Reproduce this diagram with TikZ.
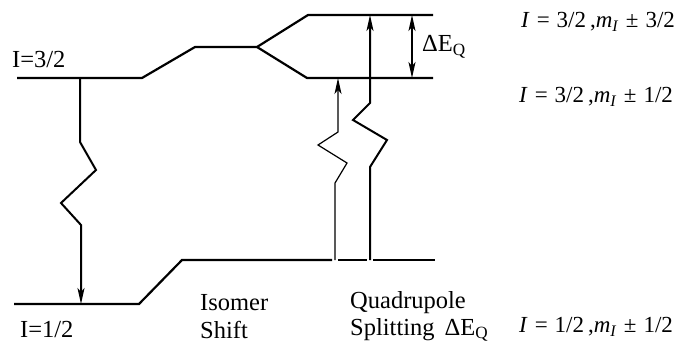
\documentclass[tikz,border=0pt]{standalone}
\usepackage{fontspec}
\setmainfont{Liberation Serif}
\usetikzlibrary{arrows.meta}
\begin{document}
\begin{tikzpicture}[x=1pt,y=-1pt,
  level/.style={line width=2.2pt},
  ray/.style={line width=2pt},
  thinray/.style={line width=1.2pt},
  head/.tip={Stealth[length=16pt,width=7pt,inset=4pt]},
  tip/.style={-head},
  lbl/.style={font=\fontsize{24.5}{28}\selectfont, inner sep=0pt},
  mlbl/.style={font=\fontsize{23}{26}\selectfont, inner sep=0pt, anchor=west}]
\useasboundingbox (0,0) rectangle (682,345);
% coordinates
\coordinate (u1) at (17,78);
\coordinate (u2) at (142,78);
\coordinate (u3) at (195,47);
\coordinate (u4) at (257,47);
\coordinate (t1) at (308,15);
\coordinate (t2) at (433,15);
\coordinate (b1) at (307,78);
\coordinate (b2) at (433,78);
\coordinate (l1) at (14,304);
\coordinate (l2) at (139,304);
\coordinate (l3) at (182,260);
\coordinate (l4) at (435,260);
% levels
\draw[level] (u1) -- (u2) -- (u3) -- (u4) -- (t1) -- (t2);
\draw[level] (u4) -- (b1) -- (b2);
\draw[level] (l1) -- (l2) -- (l3) -- (332,260);
\draw[level] (338,260) -- (367,260);
\draw[level] (373,260) -- (l4);
% emission
\draw[ray,tip] (80,78) -- (80,142) -- (96,170) -- (61,203) -- (81,225) -- (81,304);
% thin absorption
\draw[thinray,tip] (335,260) -- (335,183) -- (347,163) -- (318,145) -- (338,132) -- (338,78);
% thick absorption
\draw[ray,tip] (370,260) -- (370,167) -- (387,140) -- (353,120) -- (370,103) -- (370,15);
% splitting
\draw[ray,head-head] (412,15) -- (412,78);
% labels
\node[lbl,anchor=west] (dq) at (422,47) {ΔE\textsubscript{Q}};
\node[lbl,anchor=west] (i32) at (12,60) {I=3/2};
\node[lbl,anchor=west] (i12) at (20,330) {I=1/2};
\node[lbl,anchor=west] (iso) at (200,303) {Isomer};
\node[lbl,anchor=west] (sh) at (200,330) {Shift};
\node[lbl,anchor=west] (qu) at (350,303) {Quadrupole};
\node[lbl,anchor=west] (sp) at (350,330) {Splitting\hspace{10pt}ΔE\textsubscript{Q}};
\newcommand\mylev[2]{\textit{I}\hspace{7pt}=\hspace{7pt}#1\hspace{4pt},\textit{m}\textsubscript{\textit{I}}\hspace{7pt}±\hspace{7pt}#2}
\node[mlbl] (m1) at (521,22) {\mylev{3/2}{3/2}};
\node[mlbl] (m2) at (519,97) {\mylev{3/2}{1/2}};
\node[mlbl] (m3) at (519,327) {\mylev{1/2}{1/2}};
\end{tikzpicture}
\end{document}
